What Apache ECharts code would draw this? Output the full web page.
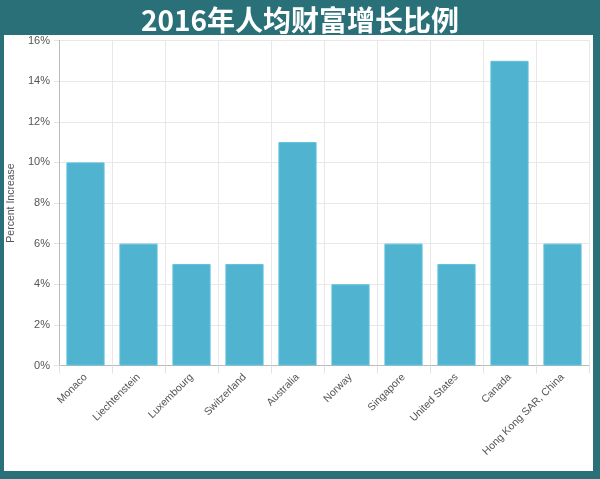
<!DOCTYPE html>
<html>
<head>
<meta charset="utf-8">
<script src="https://cdn.jsdelivr.net/npm/echarts@6/dist/echarts.min.js"></script>
<style>
html,body{margin:0;padding:0;background:#2a7078;}
#c{width:600px;height:479px;}
</style>
</head>
<body>
<div id="c"></div>
<script>
var titleText = '2016年人均财富增长比例';
var categories = ['Monaco','Liechtenstein','Luxembourg','Switzerland','Australia','Norway','Singapore','United States','Canada','Hong Kong SAR, China'];
var values = [10, 6, 5, 5, 11, 4, 6, 5, 15, 6];
var yAxisName = 'Percent Increase';

var chart = echarts.init(document.getElementById('c'));
chart.setOption({
  backgroundColor: '#2a7078',
  animation: false,
  title: {
    text: titleText,
    left: 'center',
    top: 1,
    textStyle: {color: '#ffffff', fontSize: 28, fontWeight: 'bold', fontFamily: '"Noto Sans CJK SC", sans-serif'}
  },
  graphic: [{
    type: 'rect',
    z: -10,
    silent: true,
    shape: {x: 4, y: 35, width: 589, height: 436},
    style: {fill: '#ffffff'}
  }],
  grid: {left: 59, right: 11, top: 40.5, bottom: 113.5, containLabel: false, outerBoundsMode: 'none'},
  xAxis: {
    type: 'category',
    data: categories,
    axisLine: {lineStyle: {color: '#bbbbbb'}},
    axisTick: {show: true, length: 8, alignWithLabel: false, lineStyle: {color: '#e3e3e3'}},
    splitLine: {show: true, lineStyle: {color: '#e8e8e8'}},
    axisLabel: {rotate: 45, interval: 0, margin: 10, color: '#555555', fontSize: 10.5, fontFamily: '"Liberation Sans", Arial, sans-serif'}
  },
  yAxis: {
    type: 'value',
    min: 0, max: 16, interval: 2,
    name: yAxisName,
    nameLocation: 'middle',
    nameGap: 41,
    nameTextStyle: {color: '#555555', fontSize: 10.5, fontFamily: '"Liberation Sans", Arial, sans-serif'},
    axisLine: {show: true, lineStyle: {color: '#bbbbbb'}},
    axisTick: {show: true, length: 5, lineStyle: {color: '#e3e3e3'}},
    splitLine: {show: true, lineStyle: {color: '#e8e8e8'}},
    axisLabel: {formatter: '{value}%', margin: 9, color: '#555555', fontSize: 11, fontFamily: '"Liberation Sans", Arial, sans-serif'}
  },
  series: [{
    type: 'bar',
    data: values,
    barCategoryGap: '28%',
    itemStyle: {color: '#50b4d0', borderColor: '#5fc1dd', borderWidth: 1}
  }]
});
</script>
</body>
</html>
